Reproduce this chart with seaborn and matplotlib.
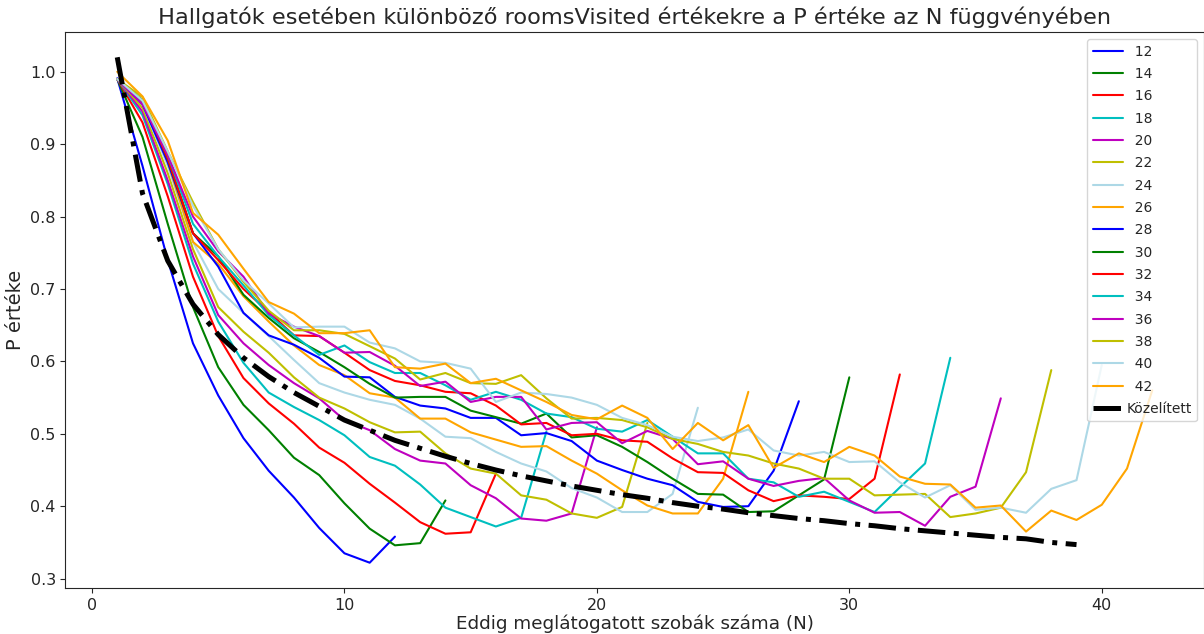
import matplotlib
matplotlib.use("Agg")
import matplotlib.pyplot as plt
import seaborn as sns
import pandas as pd

# roomsVisited categories
rooms = [12, 14, 16, 18, 20, 22, 24, 26, 28, 30, 32, 34, 36, 38, 40, 42]

s12 = [0.991, 0.87, 0.74, 0.625, 0.553, 0.494, 0.449, 0.412, 0.37, 0.335, 0.322, 0.358]
s14 = [0.99, 0.91, 0.79, 0.675, 0.592, 0.54, 0.505, 0.467, 0.443, 0.404, 0.369, 0.346, 0.349, 0.408]
s16 = [0.99, 0.93, 0.828, 0.717, 0.635, 0.577, 0.542, 0.514, 0.481, 0.46, 0.431, 0.405, 0.378, 0.362,
       0.364, 0.445]
s18 = [0.99, 0.94, 0.845, 0.735, 0.655, 0.598, 0.557, 0.537, 0.519, 0.498, 0.468, 0.456, 0.43, 0.398,
       0.385, 0.372, 0.384, 0.503]
s20 = [0.99, 0.945, 0.85, 0.745, 0.664, 0.625, 0.595, 0.57, 0.549, 0.519, 0.505, 0.479, 0.463, 0.459,
       0.429, 0.411, 0.383, 0.38, 0.39, 0.509]
s22 = [0.99, 0.95, 0.86, 0.755, 0.675, 0.641, 0.612, 0.578, 0.55, 0.535, 0.516, 0.502, 0.503, 0.473,
       0.452, 0.445, 0.415, 0.409, 0.39, 0.384, 0.399, 0.515]
s24 = [0.99, 0.955, 0.87, 0.765, 0.70, 0.667, 0.635, 0.602, 0.57, 0.557, 0.547, 0.54, 0.521, 0.496,
       0.494, 0.475, 0.459, 0.448, 0.425, 0.412, 0.392, 0.392, 0.417, 0.536]
s26 = [0.99, 0.96, 0.875, 0.765, 0.735, 0.69, 0.655, 0.622, 0.595, 0.581, 0.556, 0.55, 0.521, 0.521,
       0.502, 0.492, 0.482, 0.483, 0.463, 0.445, 0.422, 0.401, 0.39, 0.39, 0.438, 0.558]
s28 = [0.99, 0.955, 0.875, 0.777, 0.731, 0.667, 0.636, 0.623, 0.605, 0.579, 0.578, 0.551, 0.539, 0.535,
       0.522, 0.522, 0.498, 0.501, 0.49, 0.463, 0.45, 0.438, 0.429, 0.406, 0.399, 0.40, 0.449, 0.545]
s30 = [0.99, 0.96, 0.88, 0.777, 0.745, 0.692, 0.66, 0.632, 0.613, 0.592, 0.569, 0.55, 0.551, 0.551,
       0.532, 0.523, 0.514, 0.528, 0.495, 0.498, 0.482, 0.461, 0.438, 0.417, 0.416, 0.392, 0.393, 0.415,
       0.437, 0.578]
s32 = [0.99, 0.96, 0.88, 0.777, 0.74, 0.70, 0.668, 0.636, 0.635, 0.612, 0.588, 0.573, 0.567, 0.558,
       0.556, 0.539, 0.513, 0.515, 0.498, 0.50, 0.491, 0.489, 0.466, 0.447, 0.446, 0.422, 0.407, 0.415,
       0.413, 0.41, 0.438, 0.582]
s34 = [0.99, 0.96, 0.885, 0.79, 0.745, 0.705, 0.664, 0.636, 0.609, 0.622, 0.599, 0.584, 0.584, 0.567,
       0.547, 0.558, 0.547, 0.528, 0.523, 0.507, 0.503, 0.519, 0.496, 0.473, 0.473, 0.438, 0.433, 0.413,
       0.42, 0.406, 0.392, 0.426, 0.459, 0.605]
s36 = [0.99, 0.955, 0.885, 0.80, 0.752, 0.717, 0.666, 0.648, 0.635, 0.612, 0.613, 0.594, 0.566, 0.572,
       0.544, 0.551, 0.551, 0.506, 0.515, 0.516, 0.487, 0.504, 0.493, 0.458, 0.462, 0.438, 0.428, 0.435,
       0.439, 0.408, 0.391, 0.392, 0.373, 0.413, 0.427, 0.549]
s38 = [0.99, 0.965, 0.89, 0.82, 0.755, 0.71, 0.67, 0.643, 0.643, 0.638, 0.621, 0.604, 0.575, 0.584,
       0.57, 0.569, 0.581, 0.549, 0.521, 0.522, 0.519, 0.509, 0.493, 0.486, 0.475, 0.47, 0.459, 0.452,
       0.438, 0.438, 0.415, 0.416, 0.417, 0.385, 0.39, 0.398, 0.447, 0.588]
s40 = [0.99, 0.96, 0.89, 0.815, 0.755, 0.712, 0.68, 0.647, 0.648, 0.648, 0.626, 0.618, 0.60, 0.598,
       0.59, 0.544, 0.557, 0.555, 0.55, 0.54, 0.522, 0.512, 0.496, 0.49, 0.495, 0.506, 0.477, 0.47,
       0.475, 0.461, 0.462, 0.433, 0.412, 0.429, 0.395, 0.398, 0.391, 0.424, 0.436, 0.595]
s42 = [1.0, 0.966, 0.905, 0.805, 0.775, 0.728, 0.682, 0.666, 0.639, 0.639, 0.643, 0.592, 0.59, 0.597,
       0.57, 0.576, 0.56, 0.544, 0.526, 0.52, 0.539, 0.522, 0.479, 0.515, 0.491, 0.512, 0.453, 0.473,
       0.461, 0.482, 0.47, 0.441, 0.431, 0.43, 0.398, 0.401, 0.365, 0.394, 0.381, 0.402, 0.452, 0.56]

approx = [1.02, 0.832, 0.739, 0.679, 0.637, 0.605, 0.579, 0.557, 0.538, 0.519, 0.505, 0.491, 0.48,
          0.469, 0.459, 0.45, 0.442, 0.435, 0.428, 0.422, 0.416, 0.411, 0.405, 0.4, 0.396, 0.391, 0.387,
          0.383, 0.38, 0.376, 0.373, 0.369, 0.366, 0.363, 0.36, 0.357, 0.355, 0.35, 0.347]

series = [s12, s14, s16, s18, s20, s22, s24, s26, s28, s30, s32, s34, s36, s38, s40, s42]
colors = ['b', 'g', 'r', 'c', 'm', 'y', 'lightblue', 'orange'] * 2

title = "Hallgatók esetében különböző roomsVisited értékekre a P értéke az N függvényében"
xlabel = "Eddig meglátogatott szobák száma (N)"
ylabel = "P értéke"
approx_label = "Közelített"

sns.set_style("ticks")
plt.rcParams['font.family'] = ['DejaVu Sans']

fig = plt.figure(figsize=(12.04, 6.34), dpi=100)
ax = fig.add_axes([0.0544, 0.0726, 0.9456, 0.8769])

for r, vals, col in zip(rooms, series, colors):
    df = pd.DataFrame({"N": range(1, len(vals) + 1), "P": vals})
    sns.lineplot(data=df, x="N", y="P", color=col, linewidth=1.5, label="  " + str(r), ax=ax)

dfa = pd.DataFrame({"N": range(1, len(approx) + 1), "P": approx})
sns.lineplot(data=dfa, x="N", y="P", color='black', linewidth=3.6, label=approx_label, ax=ax,
             linestyle=(0, (5.5, 1.7, 1.0, 1.7)))

ax.set_title(title, fontsize=16.2)
ax.set_xlabel(xlabel, fontsize=13.2, labelpad=1.5)
ax.set_ylabel(ylabel, fontsize=14)
ax.set_xticks([0, 10, 20, 30, 40])
ax.set_yticks([0.3, 0.4, 0.5, 0.6, 0.7, 0.8, 0.9, 1.0])
ax.tick_params(labelsize=11.5)
ax.legend(loc='upper right', fontsize=10, labelspacing=0.6, borderaxespad=0.5,
          handlelength=2.2, handletextpad=0.2)

fig.savefig("out.png", dpi=100)
